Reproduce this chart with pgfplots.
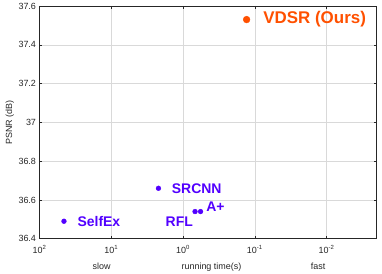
\documentclass[border=0pt]{standalone}
\usepackage{fontspec}
\setmainfont{Liberation Sans}
\usepackage{pgfplots}
\pgfplotsset{compat=1.18}
\definecolor{mblue}{RGB}{82,0,255}
\definecolor{morange}{RGB}{255,80,0}
\definecolor{axgray}{RGB}{38,38,38}
\begin{document}
\begin{tikzpicture}
\begin{axis}[
  name=ax,
  scale only axis,
  width=337.2bp, height=232.7bp,
  xmode=log, x dir=reverse,
  xmin=0.002, xmax=100,
  ymin=36.4, ymax=37.6,
  xtick={100,10,1,0.1,0.01},
  xticklabels={10\textsuperscript{2},10\textsuperscript{1},10\textsuperscript{0},10\textsuperscript{-1},10\textsuperscript{-2}},
  ytick={36.4,36.6,36.8,37,37.2,37.4,37.6},
  yticklabels={36.4,36.6,36.8,37,37.2,37.4,37.6},
  tick label style={font=\fontsize{9}{10}\selectfont, text=axgray},
  xticklabel style={yshift=-3bp},
  /pgf/number format/assume math mode=true,
  xmajorgrids, xminorgrids, ymajorgrids,
  major grid style={color=black!15, line width=0.5pt},
  minor grid style={color=black!22, dotted, line width=0.4pt},
  axis line style={color=axgray, line width=0.6pt},
  tick style={color=axgray, line width=0.5pt},
  major tick length=3bp, minor tick length=1.6bp,
  tick align=inside,
  xtick pos=both, ytick pos=both,
  ylabel={PSNR (dB)},
  ylabel style={font=\fontsize{9}{10}\selectfont, text=axgray, at={(axis description cs:-0.088,0.5)}, anchor=center},
  xlabel={running time(s)},
  xlabel style={font=\fontsize{9}{10}\selectfont, text=axgray, at={(axis description cs:0.51,-0.134)}, anchor=base},
  clip=false,
]
\addplot[only marks, mark=*, mark size=2.4bp, color=mblue] coordinates {
  (45.6,36.49) (2.2,36.66) (0.68,36.54) (0.57,36.54)
};
\addplot[only marks, mark=*, mark size=3.4bp, color=morange] coordinates {
  (0.13,37.53)
};
\node[anchor=west, text=mblue, font=\fontsize{14}{16}\selectfont\bfseries] at (axis cs:33,36.49) {SelfEx};
\node[anchor=west, text=mblue, font=\fontsize{14}{16}\selectfont\bfseries] at (axis cs:1.6,36.66) {SRCNN};
\node[anchor=west, text=mblue, font=\fontsize{14}{16}\selectfont\bfseries] at (axis cs:1.95,36.49) {RFL};
\node[anchor=west, text=mblue, font=\fontsize{14}{16}\selectfont\bfseries] at (axis cs:0.53,36.565) {A+};
\node[anchor=west, text=morange, font=\fontsize{17}{19}\selectfont\bfseries] at (axis cs:0.085,37.53) {VDSR (Ours)};
\node[anchor=base, text=axgray, font=\fontsize{9}{10}\selectfont] at (axis description cs:0.184,-0.134) {slow};
\node[anchor=base, text=axgray, font=\fontsize{9}{10}\selectfont] at (axis description cs:0.826,-0.134) {fast};
\end{axis}
\pgfresetboundingbox
\path[use as bounding box] ([xshift=-39.5bp,yshift=-35.3bp]ax.south west) rectangle ([xshift=5.3bp,yshift=6bp]ax.north east);
\end{tikzpicture}
\end{document}
